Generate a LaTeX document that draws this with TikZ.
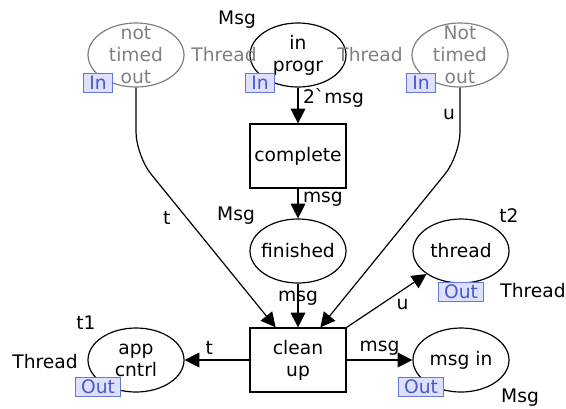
\documentclass[tikz,border=0pt]{standalone}
\usepackage{fontspec}
\setmainfont{DejaVu Sans}
\usetikzlibrary{shapes.geometric, arrows.meta, calc}
\definecolor{tagfill}{RGB}{221,224,255}
\definecolor{tagdraw}{RGB}{100,120,220}
\definecolor{tagtext}{RGB}{70,90,200}
\tikzstyle{place} = [ellipse, draw=black, line width=0.9pt, minimum width=72pt, minimum height=48pt, inner xsep=-3pt, inner ysep=-8pt, align=center]
\tikzstyle{fusion} = [place, draw=gray, text=gray]
\tikzstyle{trans} = [rectangle, draw=black, line width=0.9pt, minimum width=72pt, minimum height=48pt, align=center]
\tikzstyle{tag} = [rectangle, draw=tagdraw, fill=tagfill, text=tagtext, inner xsep=4.3pt, inner ysep=0pt, minimum height=14pt, line width=0.6pt]
\tikzstyle{arc} = [line width=0.9pt, -{Triangle[length=11pt,width=11pt]}]

\begin{document}
\begin{tikzpicture}[x=0.75pt, y=-0.75pt, font=\fontsize{14}{16.5}\selectfont]
    \useasboundingbox (0,0) rectangle (566,408);

        % Places and transitions
        \node (ntoLeft) [fusion] at (136,55) {not\\timed\\out};
        \node (inProgr) [place] at (298,55) {in\\progr};
        \node (ntoRight) [fusion] at (460,55) {Not\\timed\\out};
        \node (complete) [trans] at (298,156) {complete};
        \node (finished) [place] at (298,251) {finished};
        \node (thread) [place] at (461,251) {thread};
        \node (cleanUp) [trans] at (298,360) {clean\\up};
        \node (appCntrl) [place] at (136,360) {app\\cntrl};
        \node (msgIn) [place] at (461,360) {msg in};

        % Port tags
        \node (ntoLeftTag) [tag] at ([shift={(-38,28)}]ntoLeft.center) {In};
        \node (inProgrTag) [tag] at ([shift={(-38,28)}]inProgr.center) {In};
        \node (ntoRightTag) [tag] at ([shift={(-39,28)}]ntoRight.center) {In};
        \node (threadTag) [tag] at ([shift={(0,41)}]thread.center) {Out};
        \node (appCntrlTag) [tag] at ([shift={(-38,27)}]appCntrl.center) {Out};
        \node (msgInTag) [tag] at ([shift={(-40,27)}]msgIn.center) {Out};

        % Colour sets and markings
        \node (ntoLeftType) [text=gray] at ([shift={(88,0)}]ntoLeft.center) {Thread};
        \node (ntoRightType) [text=gray] at ([shift={(-90,0)}]ntoRight.center) {Thread};
        \node (inProgrType) at ([shift={(-61,-35)}]inProgr.center) {Msg};
        \node (finishedType) at ([shift={(-62,-35)}]finished.center) {Msg};
        \node (threadInit) at ([shift={(48,-35)}]thread.center) {t2};
        \node (threadType) at ([shift={(72,40)}]thread.center) {Thread};
        \node (appCntrlInit) at ([shift={(-50,-37)}]appCntrl.center) {t1};
        \node (appCntrlType) at ([shift={(-91,2)}]appCntrl.center) {Thread};
        \node (msgInType) at ([shift={(59,38)}]msgIn.center) {Msg};

        % Arcs
        \draw [arc] (inProgr) -- node[right, pos=0.3] {2\textasciigrave msg} (complete);
        \draw [arc] (complete) -- node[right, pos=0.35] {msg} (finished);
        \draw [arc] (finished) -- node[pos=0.33] {msg} (cleanUp);
        \draw [arc, rounded corners=18pt] (ntoLeft.south) -- ++(0,68)
            -- node[left=8pt, pos=0.36] {t} ($(cleanUp.north west)!0.27!(cleanUp.north east)$);
        \draw [arc, rounded corners=18pt] (ntoRight.south) -- node[left, pos=0.4] {u} ++(0,68)
            -- ($(cleanUp.north west)!0.73!(cleanUp.north east)$);
        \draw [arc] (cleanUp) -- node[above, pos=0.62] {t} (appCntrl);
        \draw [arc] (cleanUp) -- node[above, pos=0.5] {msg} (msgIn);
        \draw [arc] (cleanUp.north east) -- node[below=3pt, pos=0.7] {u} (thread);

        \end{tikzpicture}
\end{document}
